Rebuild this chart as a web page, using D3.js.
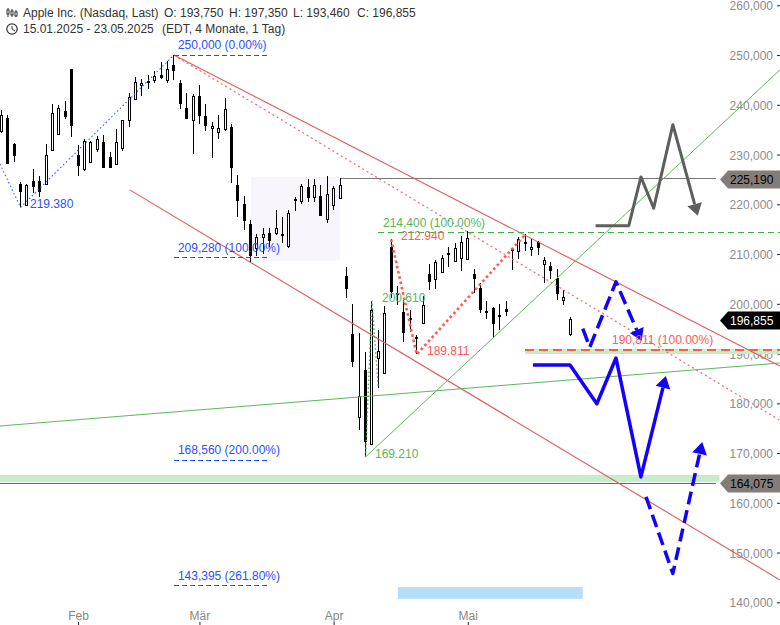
<!DOCTYPE html>
<html>
<head>
<meta charset="utf-8">
<title>Apple Inc.</title>
<script src="https://cdn.jsdelivr.net/npm/d3@7"></script>
<style>
    html, body { margin: 0; padding: 0; background: #fff; }
    svg { display: block; font-family: "Liberation Sans", Arial, sans-serif; }
</style>
</head>
<body>
<div id="chart"></div>
<script>
// 日线数据 (15.01.2025 - 23.05.2025)
const dates = ['15.01','16.01','17.01','21.01','22.01','23.01','24.01','27.01','28.01','29.01','30.01','31.01',
    '03.02','04.02','05.02','06.02','07.02','10.02','11.02','12.02','13.02','14.02','18.02','19.02','20.02','21.02','24.02','25.02','26.02','27.02','28.02',
    '03.03','04.03','05.03','06.03','07.03','10.03','11.03','12.03','13.03','14.03','17.03','18.03','19.03','20.03','21.03','24.03','25.03','26.03','27.03','28.03','31.03',
    '01.04','02.04','03.04','04.04','07.04','08.04','09.04','10.04','11.04','14.04','15.04','16.04','17.04','21.04','22.04','23.04','24.04','25.04','28.04','29.04','30.04',
    '01.05','02.05','05.05','06.05','07.05','08.05','09.05','12.05','13.05','14.05','15.05','16.05','19.05','20.05','21.05','22.05','23.05'];
const opens = [234.6,237.35,232.12,224,219.79,224.74,224.78,224.02,230.85,234.12,238.67,247.19,
    229.99,227.25,228.53,231.29,232.6,229.57,228.2,231.2,236.91,241.25,244.15,244.66,244.94,245.95,244.93,248,244.33,239.41,236.95,
    241.79,237.71,235.42,234.44,235.11,235.54,223.81,220.14,215.95,211.25,213.31,214.16,214.22,213.99,211.56,221,220.77,223.51,221.39,221.67,217.01,
    219.81,221.32,205.54,193.89,177.2,186.7,171.95,189.07,186.1,211.44,202,198.36,197.2,193.27,196.12,206,204.89,206.37,210,208.69,209.3,
    209.08,206.09,203.1,198.21,199.17,197.72,199,210.97,210.43,212.43,210.95,212.36,207.91,207.67,205.17,200.71,193.75];
const highs = [238.96,238.01,232.29,224.42,224.12,227.03,225.63,232.15,240.19,239.86,240.79,247.19,
    231.83,233.13,232.67,233.8,234,230.59,235.23,236.96,242.34,245.55,245.18,246.01,246.78,248.69,248.86,250,244.98,242.46,242.09,
    244.03,240.07,236.55,237.86,241.37,236.16,225.84,221.75,216.84,213.95,215.22,215.15,218.76,217.49,218.84,221.48,224.1,225.02,224.99,223.81,225.62,
    223.68,225.19,207.49,199.88,194.15,190.34,200.61,194.78,199.54,212.94,203.51,200.7,198.83,193.8,201.59,208,208.83,209.75,211.5,212.24,213.58,
    214.56,206.99,204.1,200.65,199.44,200.05,200.54,211.27,213.4,213.94,212.96,212.57,209.48,208.47,207.04,202.75,197.35];
const lows = [234.43,228.03,228.48,219.38,219.79,222.3,221.41,223.98,230.81,234.01,237.21,233.44,
    225.7,226.65,228.27,230.43,227.26,227.2,228.13,230.68,235.57,240.99,241.84,243.16,244.29,245.22,244.42,244.91,239.13,237.06,230.2,
    236.11,234.68,229.23,233.16,234.76,224.22,217.45,214.91,208.42,209.58,209.97,211.49,213.75,212.22,211.28,218.58,220.08,220.47,220.56,217.68,216.23,
    218.9,221.02,201.25,187.34,174.62,169.21,171.89,183,186.06,201.16,199.83,192.37,194.42,189.81,195.97,202.8,202.94,206.2,207.46,208.37,206.67,
    208.9,202.16,198.21,197.02,193.25,194.68,197.54,206.75,209,210.58,209.54,209.77,204.26,205.03,200.71,199.7,193.46];
const closes = [237.87,228.26,229.98,222.64,223.83,223.66,222.78,229.86,238.26,239.36,237.59,236,
    228.01,232.8,232.47,233.22,227.63,227.65,232.62,236.87,241.53,244.6,244.47,244.87,245.83,245.55,247.1,247.04,240.36,237.3,241.84,
    238.03,235.93,235.74,235.33,239.07,227.48,220.84,216.98,209.68,213.49,214,212.69,215.24,214.1,218.27,220.73,223.75,221.53,223.85,217.9,222.13,
    223.19,223.89,203.19,188.38,181.46,172.42,198.85,190.42,198.15,202.52,202.14,194.27,196.98,193.16,199.74,204.6,208.37,209.28,210.14,211.21,212.5,
    213.32,205.35,198.89,198.51,196.25,197.49,198.53,210.79,212.93,212.33,211.45,211.26,208.78,206.86,202.09,201.36,196.855];

// 坐标轴
const priceTicks = [260,250,240,230,220,210,200,190,180,170,160,150,140];
const monthTicks = [12,31,52,73];
const monthLabels = ['Feb','Mär','Apr','Mai'];

// 趋势线 [索引, 价格]
const channelUpper = [[27,250],[121.84,187.5]];
const channelLower = [[20.1,222.9],[121.84,144.5]];
const channelMid = [[27,250],[121.84,176.6]];
const greenLong = [[-0.22,175.44],[121.84,188.1]];
const greenUp = [[57,169.21],[121.84,247]];
const blueSwing = [[-0.22,228.1],[3,219.38],[27,250]];
const greenSwing = [[57,169.21],[58,200.61],[59,183]];
const redSwing = [[61,212.94],[65,189.81],[82,213.94]];

// 预测路径
const solidPath = [[83.2,187.7],[89,187.7],[93.2,179.9],[96.2,189.1],[100.1,165.2],[104,185.5]];
const dashPathA = [[91,195],[92.1,191.3],[96.2,204.4],[100.2,192.5]];
const dashPathB = [[100.9,161.2],[105.1,145.8],[109.7,172.2]];
const greyPath = [[93,215.7],[98.2,215.7],[100.1,225.5],[102.1,219.2],[105.1,236],[109,217.7]];

// 斐波那契水平
const fibLevels = [[27,250,'250,000 (0.00%)'],[27,209.28,'209,280 (100.00%)'],[27,168.56,'168,560 (200.00%)'],[27,143.395,'143,395 (261.80%)']];
const lastPrice = 196.855;
const gapPrice = 225.19;
const lowPrice = 164.075;
const greenBand = [165.6,164.2];
const redBand = [190.9,189.9];
const boxRange = [39.06,53,225.5,208.7];
const blueBox = [62.06,91,143.05,140.7];

const width = 780, height = 625;
const x = d3.scaleLinear().domain([0, 89]).range([1.4, 570]);
const y = d3.scaleLinear().domain([260, 140]).range([5.3, 602.3]);
const lineGen = d3.line().x(d => x(d[0])).y(d => y(d[1]));

const svg = d3.select('#chart').append('svg').attr('width', width).attr('height', height);

// 价格轴
const yAxis = svg.append('g').attr('transform', `translate(${width},0)`)
    .call(d3.axisLeft(y).tickValues(priceTicks).tickSize(3).tickPadding(4).tickFormat(d => d3.format('d')(d) + ',000'));
yAxis.select('.domain').remove();
yAxis.selectAll('text').attr('font-size', 12).attr('fill', '#8c8c8c').attr('font-family', 'inherit').attr('dy', '0.38em');
yAxis.selectAll('line').attr('stroke', '#222');

// 时间轴
const xAxis = svg.append('g').attr('transform', `translate(0,${height - 3})`)
    .call(d3.axisBottom(x).tickValues(monthTicks).tickSize(3).tickPadding(-14).tickFormat((d, i) => monthLabels[i]));
xAxis.select('.domain').remove();
xAxis.selectAll('text').attr('font-size', 12).attr('fill', '#8a8582').attr('font-family', 'inherit');
xAxis.selectAll('line').attr('stroke', '#222');

function band(xs, vals, fill) {
    svg.append('rect')
        .attr('x', x(xs[0])).attr('width', x(xs[1]) - x(xs[0]))
        .attr('y', y(vals[0])).attr('height', y(vals[1]) - y(vals[0]))
        .attr('fill', fill);
}

function drawLine(points, color, w, dash, crisp) {
    svg.append('path')
        .attr('d', lineGen(points))
        .attr('fill', 'none')
        .attr('stroke', color)
        .attr('stroke-width', w)
        .attr('stroke-dasharray', dash || null)
        .attr('shape-rendering', crisp ? 'crispEdges' : null)
        .attr('stroke-linejoin', 'miter');
}

// 箭头路径, 线在箭头底部截止
function drawArrow(points, color, w, dash) {
    const n = points.length;
    const tx = x(points[n - 1][0]), ty = y(points[n - 1][1]);
    const fx = x(points[n - 2][0]), fy = y(points[n - 2][1]);
    const len = Math.hypot(tx - fx, ty - fy);
    const ux = (tx - fx) / len, uy = (ty - fy) / len;
    const bx = tx - ux * 12, by = ty - uy * 12;
    const pixels = points.slice(0, n - 1).map(p => [x(p[0]), y(p[1])]).concat([[bx, by]]);
    svg.append('path')
        .attr('d', d3.line()(pixels))
        .attr('fill', 'none')
        .attr('stroke', color)
        .attr('stroke-width', w)
        .attr('stroke-dasharray', dash || null)
        .attr('stroke-linejoin', 'round');
    svg.append('polygon')
        .attr('points', [[tx, ty], [bx - uy * 7.5, by + ux * 7.5], [bx + uy * 7.5, by - ux * 7.5]].join(' '))
        .attr('fill', color);
}

function label(px, py, str, color, size) {
    svg.append('text')
        .attr('x', px).attr('y', py)
        .attr('dy', '0.35em')
        .attr('font-size', size || 12)
        .attr('fill', color)
        .text(str);
}

// 背景区域
band([-1, 112.4], greenBand, '#c4eec8');
band([82, 122], redBand, '#c4eec8');
band(boxRange.slice(0, 2), boxRange.slice(2), '#f9f5fc');
band(blueBox.slice(0, 2), blueBox.slice(2), '#b5dff9');

// 水平线
drawLine([[53, gapPrice - 0.1], [111.8, gapPrice - 0.1]], '#777', 1, null, true);
drawLine([[-1, lowPrice - 0.1], [111.8, lowPrice - 0.1]], '#666', 1, null, true);

// K线
const candles = svg.append('g').selectAll('g')
    .data(dates.map((d, i) => i))
    .enter().append('g')
    .attr('shape-rendering', 'crispEdges');
candles.append('line')
    .attr('x1', i => Math.floor(x(i)) + 0.5).attr('x2', i => Math.floor(x(i)) + 0.5)
    .attr('y1', i => Math.round(y(highs[i]))).attr('y2', i => Math.round(y(lows[i])))
    .attr('stroke', '#000').attr('stroke-width', 1);
candles.append('rect')
    .attr('x', i => Math.floor(x(i)) - 0.5).attr('width', 2)
    .attr('y', i => Math.round(y(Math.max(opens[i], closes[i]))) + 0.5)
    .attr('height', i => Math.max(1, Math.round(Math.abs(y(opens[i]) - y(closes[i])))))
    .attr('fill', i => closes[i] >= opens[i] ? '#fff' : '#000')
    .attr('stroke', '#000').attr('stroke-width', 1);

// 趋势线
drawLine(channelUpper, '#e25a5a', 1.1);
drawLine(channelLower, '#e25a5a', 1.1);
drawLine(channelMid, '#f26a6a', 1.2, '2,3');
drawLine(greenLong, '#5cb85c', 1);
drawLine(greenUp, '#5cb85c', 1);
drawLine(blueSwing, '#3355ff', 1.1, '1.5,2.5');
drawLine(greenSwing, '#46b04c', 1.4, '1.5,2.5');
drawLine(redSwing, '#ff5a50', 2.6, '2.6,2.8');

// 斐波那契虚线
fibLevels.forEach(f => {
    drawLine([[f[0], f[1]], [41.6, f[1]]], '#1f4bff', 1, '5,3', true);
    label(x(f[0]) + 4, y(f[1]) - 10, f[2], '#2a50ff');
});
drawLine([[59, 214.4], [122, 214.4]], '#3cb043', 1, '6,4', true);
drawLine([[82, 190.811], [122, 190.811]], '#f0604a', 2, '9,5', true);

// 预测路径
drawArrow(greyPath, '#5e5e5e', 3);
drawArrow(solidPath, '#1400ff', 3.5);
drawArrow(dashPathA, '#1400ff', 3.5, '14,6');
drawArrow(dashPathB, '#1400ff', 3.5, '13,6');

// 标签
label(30, y(219.38) - 3.5, '219.380', '#2a50ff');
label(383, 223, '214,400 (100.00%)', '#55b85a');
label(401, 236, '212.940', '#ff5a50');
label(382, 298, '200,610', '#55b85a');
label(427, 351, '189.811', '#ff5a50');
label(375, 454, '169.210', '#55b85a');
label(612, 340, '190,811 (100.00%)', '#ff5a50');

// 价格标记
function priceTag(value, fill, color) {
    const py = y(value) + 1;
    svg.append('polygon')
        .attr('points', [[720, py], [728, py - 9], [780, py - 9], [780, py + 9], [728, py + 9]].join(' '))
        .attr('fill', fill);
    svg.append('text')
        .attr('x', 730).attr('y', py).attr('dy', '0.35em')
        .attr('font-size', 12).attr('fill', color)
        .text(d3.format('.3f')(value).replace('.', ','));
}
priceTag(gapPrice, '#827d79', '#000');
priceTag(lastPrice, '#000', '#fff');
priceTag(lowPrice, '#827d79', '#000');

// 顶部信息
label(23, 13, 'Apple Inc. (Nasdaq, Last)', '#333');
label(164, 13, 'O: 193,750', '#333');
label(229, 13, 'H: 197,350', '#333');
label(293, 13, 'L: 193,460', '#333');
label(357, 13, 'C: 196,855', '#333');
label(23, 29, '15.01.2025 - 23.05.2025', '#333');
label(162, 29, '(EDT, 4 Monate, 1 Tag)', '#333');

// 图标
const icon = svg.append('g').attr('stroke', '#333').attr('fill', '#fff');
[8, 12, 16].forEach((px, i) => {
    icon.append('line').attr('x1', px).attr('x2', px).attr('y1', 8 + i).attr('y2', 17);
    icon.append('rect').attr('x', px - 1).attr('y', 10 + i).attr('width', 2).attr('height', 4);
});
icon.append('circle').attr('cx', 12).attr('cy', 29).attr('r', 5.2).attr('stroke-width', 1.2);
icon.append('path').attr('d', d3.line()([[12, 26], [12, 29], [15, 31]])).attr('fill', 'none');
</script>
</body>
</html>
